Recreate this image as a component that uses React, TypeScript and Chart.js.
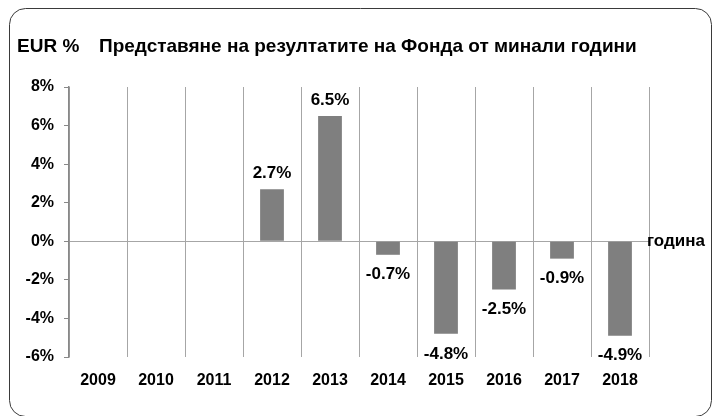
import React, { useEffect, useRef } from "react";
import { Chart, registerables } from "chart.js";

Chart.register(...registerables);

const categories = ["2009", "2010", "2011", "2012", "2013", "2014", "2015", "2016", "2017", "2018"];
const returns: (number | null)[] = [null, null, null, 2.7, 6.5, -0.7, -4.8, -2.5, -0.9, -4.9];
const yTicks = [-6, -4, -2, 0, 2, 4, 6, 8];
const titleCurrency = "EUR %";
const titleText = "Представяне на резултатите на Фонда от минали години";
const xAxisName = "година";

const FONT = "'Liberation Sans', Arial, sans-serif";

export default function App() {
  const ref = useRef<HTMLCanvasElement | null>(null);

  useEffect(() => {
    if (!ref.current) return;

    const framePlugin = {
      id: "frame",
      beforeDraw(chart: any) {
        const c = chart.ctx;
        c.save();
        c.fillStyle = "#ffffff";
        c.fillRect(0, 0, chart.width, chart.height);
        c.beginPath();
        c.roundRect(9.5, 8.5, 702, 408, 16);
        c.strokeStyle = "#3a3a3a";
        c.lineWidth = 1;
        c.stroke();
        c.restore();
      },
      afterDraw(chart: any) {
        const c = chart.ctx;
        c.save();
        c.fillStyle = "#000";
        c.font = `bold 19px ${FONT}`;
        c.textBaseline = "middle";
        c.textAlign = "left";
        c.fillText(titleCurrency, 17, 47);
        c.fillText(titleText, 99, 47);
        const y0 = chart.scales.y.getPixelForValue(0);
        c.font = `bold 17px ${FONT}`;
        c.fillText(xAxisName, chart.chartArea.right - 2, y0);
        c.restore();
      },
    };

    const labelPlugin = {
      id: "valueLabels",
      afterDatasetsDraw(chart: any) {
        const c = chart.ctx;
        const meta = chart.getDatasetMeta(0);
        c.save();
        c.fillStyle = "#000";
        c.font = `bold 17px ${FONT}`;
        c.textAlign = "center";
        c.textBaseline = "middle";
        meta.data.forEach((bar: any, i: number) => {
          const v = returns[i];
          if (v === null || v === undefined) return;
          const y = v >= 0 ? bar.y - 16 : bar.y + 20;
          c.fillText(v.toFixed(1) + "%", bar.x, y);
        });
        c.restore();
      },
    };

    const chart = new Chart(ref.current, {
      type: "bar",
      data: {
        labels: categories,
        datasets: [
          {
            data: returns,
            backgroundColor: "#7f7f7f",
            borderWidth: 0,
            categoryPercentage: 1,
            barPercentage: 0.41,
          },
        ],
      },
      options: {
        responsive: false,
        animation: false,
        devicePixelRatio: 1,
        layout: { padding: { left: 10, right: 64, top: 87, bottom: 19 } },
        plugins: {
          legend: { display: false },
          title: { display: false },
          tooltip: { enabled: false },
        },
        scales: {
          x: {
            grid: {
              offset: true,
              color: "#a6a6a6",
              lineWidth: 1,
              drawTicks: false,
            },
            border: { display: false },
            ticks: {
              color: "#000",
              font: { family: FONT, size: 16, weight: "bold" },
              padding: 14,
              maxRotation: 0,
            },
            afterFit(scale: any) {
              scale.height = 40;
            },
          },
          y: {
            min: -6,
            max: 8,
            afterBuildTicks(scale: any) {
              scale.ticks = yTicks.map((v) => ({ value: v }));
            },
            grid: {
              color: (ctx: any) => (ctx.tick && ctx.tick.value === 0 ? "#a6a6a6" : "rgba(0,0,0,0)"),
              tickColor: "#888888",
              tickLength: 5,
              lineWidth: 1,
            },
            border: { display: true, color: "#888888", width: 1.5 },
            ticks: {
              color: "#000",
              font: { family: FONT, size: 16, weight: "bold" },
              padding: 10,
              callback: (v: any) => v + "%",
            },
            afterFit(scale: any) {
              scale.width = 59;
            },
          },
        },
      },
      plugins: [framePlugin, labelPlugin],
    });

    return () => chart.destroy();
  }, []);

  return (
    <div style={{ position: "fixed", left: 0, top: 0, width: 713, height: 416 }}>
      <canvas ref={ref} width={713} height={416} style={{ display: "block", width: 713, height: 416 }} />
    </div>
  );
}
